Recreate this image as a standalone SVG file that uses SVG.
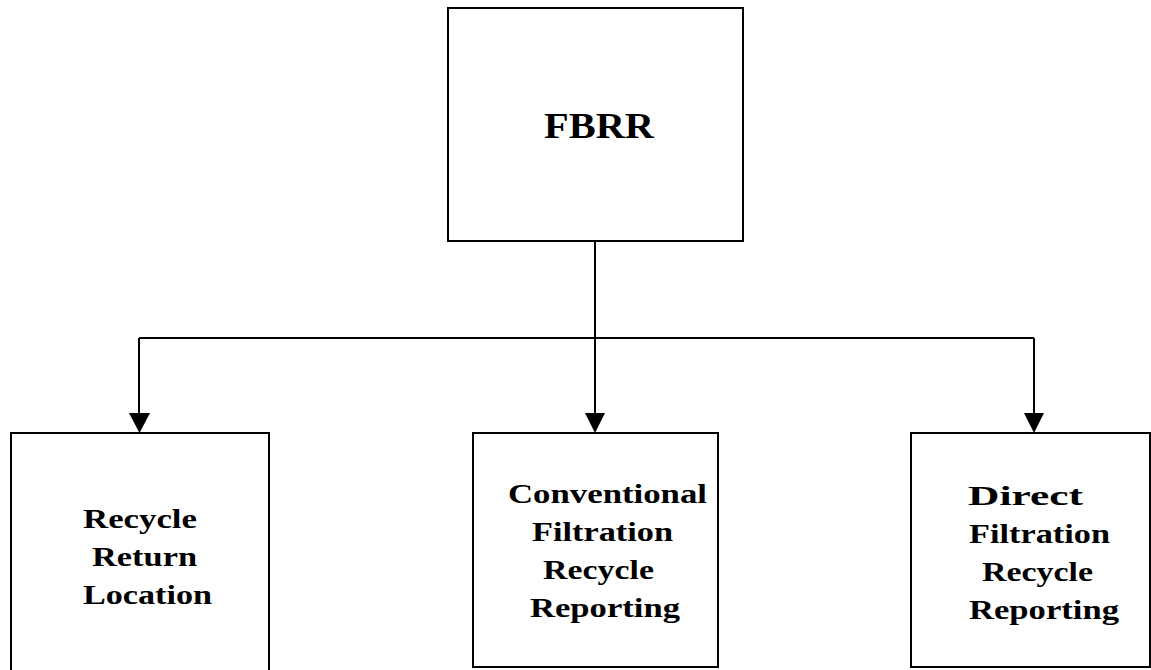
<svg xmlns="http://www.w3.org/2000/svg" width="1151" height="670" viewBox="0 0 1151 670">
<style>
.box{fill:#fff;stroke:#000;stroke-width:2}
.lbl{font-family:"Liberation Serif","Times New Roman",serif;font-weight:bold;fill:#000}
.big{font-size:35px}
.sm{font-size:28px}
.line{fill:none;stroke:#000;stroke-width:2}
</style>
<g id="connectors">
<line class="line" x1="595" y1="241" x2="595" y2="338"/>
<line class="line" x1="139" y1="338" x2="1034" y2="338"/>
<path class="line" d="M139,338 L139,414"/>
<path d="M129,413 L150,413 L139.5,433 Z" fill="#000"/>
<path class="line" d="M595,338 L595,414"/>
<path d="M585,413 L605,413 L595,433 Z" fill="#000"/>
<path class="line" d="M1034,338 L1034,414"/>
<path d="M1024,413 L1044,413 L1034,433 Z" fill="#000"/>
</g>
<g id="fbrr">
<rect class="box" x="448" y="8" width="295" height="233"/>
<text class="lbl big" x="544" y="138" textLength="110" lengthAdjust="spacingAndGlyphs">FBRR</text>
</g>
<g id="recycle-return">
<rect class="box" x="11" y="433" width="258" height="245"/>
<text class="lbl sm" x="83" y="528" textLength="114" lengthAdjust="spacingAndGlyphs">Recycle</text>
<text class="lbl sm" x="92" y="566" textLength="105" lengthAdjust="spacingAndGlyphs">Return</text>
<text class="lbl sm" x="83" y="604" textLength="129" lengthAdjust="spacingAndGlyphs">Location</text>
</g>
<g id="conventional">
<rect class="box" x="473" y="433" width="245" height="234"/>
<text class="lbl sm" x="508" y="503" textLength="199" lengthAdjust="spacingAndGlyphs">Conventional</text>
<text class="lbl sm" x="532" y="541" textLength="141" lengthAdjust="spacingAndGlyphs">Filtration</text>
<text class="lbl sm" x="543" y="579" textLength="111" lengthAdjust="spacingAndGlyphs">Recycle</text>
<text class="lbl sm" x="530" y="617" textLength="150" lengthAdjust="spacingAndGlyphs">Reporting</text>
</g>
<g id="direct">
<rect class="box" x="911" y="433" width="239" height="234"/>
<text class="lbl sm" x="968" y="505" textLength="115" lengthAdjust="spacingAndGlyphs">Direct</text>
<text class="lbl sm" x="969" y="543" textLength="141" lengthAdjust="spacingAndGlyphs">Filtration</text>
<text class="lbl sm" x="982" y="581" textLength="111" lengthAdjust="spacingAndGlyphs">Recycle</text>
<text class="lbl sm" x="969" y="619" textLength="150" lengthAdjust="spacingAndGlyphs">Reporting</text>
</g>
</svg>
